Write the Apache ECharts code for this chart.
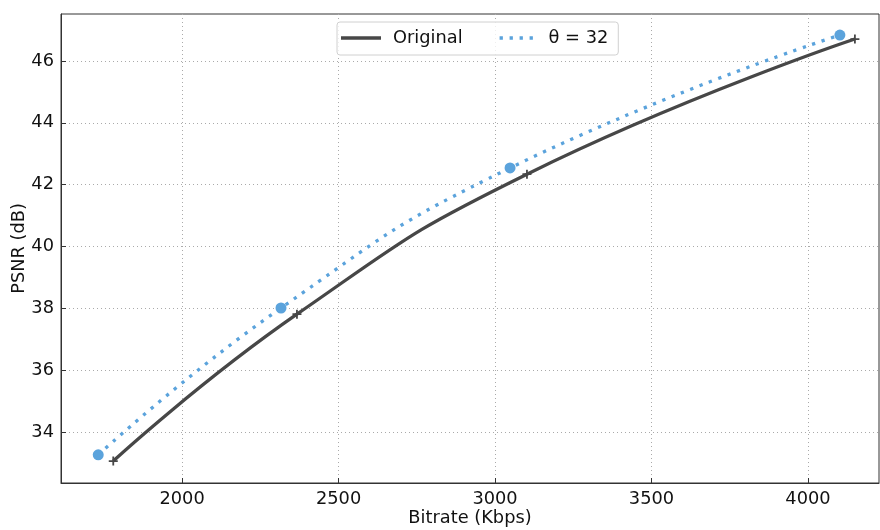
<!DOCTYPE html>
<html>
<head>
<meta charset="utf-8">
<script src="https://cdn.jsdelivr.net/npm/echarts@6/dist/echarts.min.js"></script>
<style>html,body{margin:0;padding:0;background:#fff}#chart{width:880px;height:530px}</style>
</head>
<body>
<div id="chart"></div>
<script>
// Rate-distortion curves: bitrate (Kbps) vs PSNR (dB)
const originalBitrate = [1780, 2367, 3102, 4150];
const originalPsnr = [33.06, 37.81, 42.34, 46.71];
const thetaBitrate = [1732, 2316, 3048, 4102];
const thetaPsnr = [33.26, 38.01, 42.54, 46.84];
const xTicks = [2000, 2500, 3000, 3500, 4000];
const yTicks = [34, 36, 38, 40, 42, 44, 46];
const seriesNames = ['Original', 'θ = 32'];

const dark = '#474747';
const blue = '#5ba3dc';
const font = 'DejaVu Sans';
const fontSize = 17.8;
const plusPath = 'path://M4,0H6V4H10V6H6V10H4V6H0V4H4Z';
// legend handles: a solid bar and a row of square dots (tiny corner marks fix the bounds)
const solidHandle = 'path://M0,0H40V3.3H0Z';
const dottedHandle = 'path://M0,0L0.01,0L0,0.01Z M40,3.3L39.99,3.3L40,3.29Z M3,0H6.3V3.3H3Z M13,0H16.3V3.3H13Z M23,0H26.3V3.3H23Z M33,0H36.3V3.3H33Z';

const pairs = (xs, ys) => xs.map((x, i) => [x, ys[i]]);

const chart = echarts.init(document.getElementById('chart'));
chart.setOption({
  animation: false,
  grid: {
    left: 61, right: 1, top: 14, bottom: 47,
    containLabel: false, outerBoundsMode: 'none',
    show: true, borderColor: '#333', borderWidth: 1
  },
  legend: {
    left: 337, top: 22,
    itemWidth: 40, itemHeight: 3.3, itemGap: 34,
    padding: [7, 10, 8, 4],
    borderColor: '#d0d0d0', borderWidth: 1, borderRadius: 3,
    backgroundColor: 'rgba(255,255,255,0.8)',
    textStyle: { fontFamily: font, fontSize: fontSize, color: '#111', padding: [0, 0, 0, 7] },
    data: [
      { name: seriesNames[0], icon: solidHandle, itemStyle: { color: dark } },
      { name: seriesNames[1], icon: dottedHandle, itemStyle: { color: blue } }
    ]
  },
  xAxis: {
    type: 'value', min: 1613, max: 4227,
    name: 'Bitrate (Kbps)', nameLocation: 'middle', nameGap: 26, nameMoveOverlap: false,
    nameTextStyle: { fontFamily: font, fontSize: fontSize, color: '#111' },
    axisLine: { onZero: false, lineStyle: { color: '#333' } },
    axisTick: { inside: true, length: 5, customValues: xTicks, lineStyle: { color: '#333' } },
    axisLabel: { customValues: xTicks, formatter: v => String(v), fontFamily: font, fontSize: fontSize, color: '#111', margin: 7 },
    splitLine: { show: true, lineStyle: { color: '#aaa', type: [1, 3], width: 1 } }
  },
  yAxis: {
    type: 'value', min: 32.35, max: 47.52,
    name: 'PSNR (dB)', nameLocation: 'middle', nameGap: 33, nameMoveOverlap: false,
    nameTextStyle: { fontFamily: font, fontSize: fontSize, color: '#111' },
    axisLine: { onZero: false, lineStyle: { color: '#333' } },
    axisTick: { inside: true, length: 5, customValues: yTicks, lineStyle: { color: '#333' } },
    axisLabel: { customValues: yTicks, formatter: v => String(v), fontFamily: font, fontSize: fontSize, color: '#111', margin: 7 },
    splitLine: { show: true, lineStyle: { color: '#aaa', type: [1, 3], width: 1 } }
  },
  series: [
    {
      name: seriesNames[0], type: 'line', smooth: 0.5,
      data: pairs(originalBitrate, originalPsnr),
      symbol: plusPath, symbolSize: 9,
      itemStyle: { color: dark },
      lineStyle: { color: dark, width: 3.3 },
      z: 2
    },
    {
      name: seriesNames[1], type: 'line', smooth: 0.5,
      data: pairs(thetaBitrate, thetaPsnr),
      symbol: 'circle', symbolSize: 11,
      itemStyle: { color: blue },
      lineStyle: { color: blue, width: 3.3, type: [3.3, 6.7] },
      z: 3
    }
  ]
});
</script>
</body>
</html>
